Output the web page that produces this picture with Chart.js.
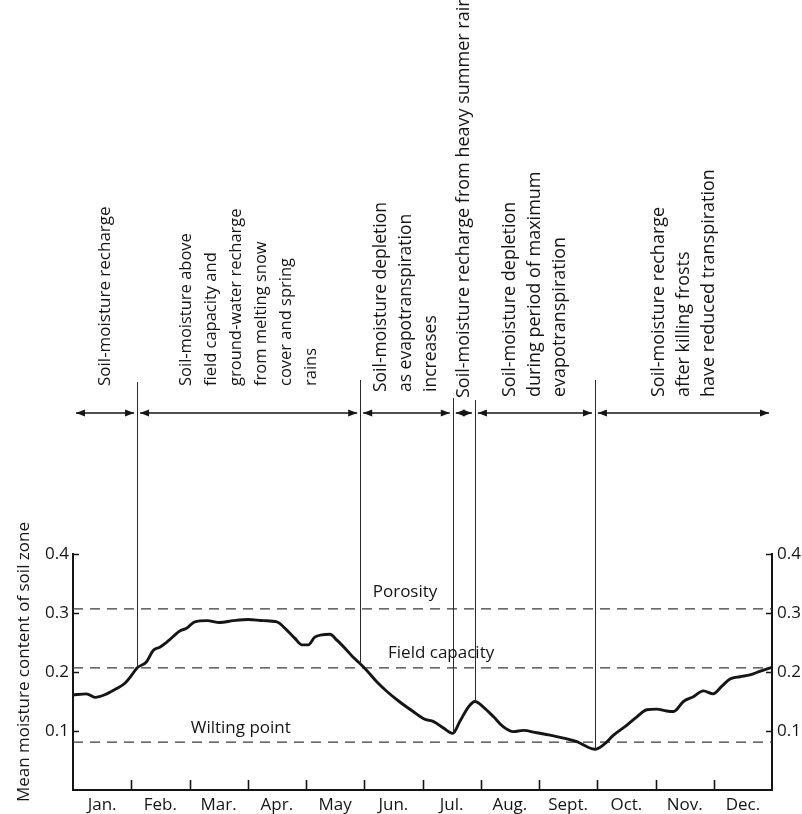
<!DOCTYPE html>
<html>
<head>
<meta charset="utf-8">
<script src="https://cdn.jsdelivr.net/npm/chart.js@4.4.1/dist/chart.umd.min.js"></script>
<style>
  html, body { margin: 0; padding: 0; background: #fff; }
  #wrap { width: 802px; height: 814px; }
</style>
</head>
<body>
<div id="wrap"><canvas id="c" width="802" height="814"></canvas></div>
<script>
// Month names along the bottom axis (one per month, centred in its column)
const months = ['Jan.', 'Feb.', 'Mar.', 'Apr.', 'May', 'Jun.', 'Jul.', 'Aug.', 'Sept.', 'Oct.', 'Nov.', 'Dec.'];

// Mean soil-zone moisture through the year: position in months (0 = start of Jan.) and moisture content
const moistureMonth = [
  0, 0.23, 0.38, 0.58, 0.75, 0.89, 1.01, 1.1,
  1.26, 1.38, 1.49, 1.64, 1.84, 1.95, 2.09, 2.3,
  2.52, 2.75, 3.01, 3.27, 3.5, 3.67, 3.81, 3.93,
  4.04, 4.15, 4.27, 4.41, 4.53, 4.7, 4.81, 4.93,
  5.04, 5.21, 5.39, 5.6, 5.84, 6.04, 6.19, 6.36,
  6.52, 6.64, 6.79, 6.9, 7.04, 7.22, 7.39, 7.56,
  7.73, 7.96, 8.19, 8.42, 8.65, 8.85, 8.96, 9.1,
  9.28, 9.51, 9.68, 9.85, 10.02, 10.19, 10.31, 10.48,
  10.65, 10.82, 10.99, 11.14, 11.28, 11.45, 11.62, 11.79,
  12
];
const moistureValue = [
  0.161, 0.163, 0.157, 0.163, 0.172, 0.181, 0.195, 0.207,
  0.217, 0.237, 0.242, 0.253, 0.270, 0.274, 0.285, 0.287,
  0.284, 0.287, 0.289, 0.287, 0.285, 0.271, 0.257, 0.246,
  0.246, 0.259, 0.263, 0.264, 0.254, 0.237, 0.225, 0.214,
  0.203, 0.184, 0.167, 0.150, 0.133, 0.120, 0.116, 0.105,
  0.096, 0.116, 0.141, 0.150, 0.141, 0.124, 0.107, 0.099,
  0.101, 0.097, 0.093, 0.088, 0.082, 0.072, 0.069, 0.076,
  0.093, 0.110, 0.124, 0.136, 0.137, 0.134, 0.133, 0.150,
  0.158, 0.168, 0.163, 0.176, 0.188, 0.192, 0.195, 0.201,
  0.208
];

// Characteristic soil-water levels
const levelNames = ['Porosity', 'Field capacity', 'Wilting point'];
const levelValues = [0.307, 0.207, 0.081];

// Tick values on both moisture axes
const moistureTicks = [0.1, 0.2, 0.3, 0.4];

// Boundaries (in months) between the seasonal phases, and each phase's description
const phaseBounds = [1.1, 4.93, 6.52, 6.9, 8.96];
const phaseLabels = [
  ['Soil-moisture recharge'],
  ['Soil-moisture above', 'field capacity and', 'ground-water recharge', 'from melting snow', 'cover and spring', 'rains'],
  ['Soil-moisture depletion', 'as evapotranspiration', 'increases'],
  ['Soil-moisture recharge from heavy summer rains'],
  ['Soil-moisture depletion', 'during period of maximum', 'evapotranspiration'],
  ['Soil-moisture recharge', 'after killing frosts', 'have reduced transpiration']
];

const INK = '#151515';
const FONT = "'Open Sans', 'DejaVu Sans', sans-serif";
Chart.defaults.font.family = FONT;
Chart.defaults.font.size = 17;
Chart.defaults.color = INK;

function moistureAt(m) {
  for (let i = 1; i < moistureMonth.length; i++) {
    if (m <= moistureMonth[i]) {
      const a = moistureMonth[i - 1], b = moistureMonth[i];
      const t = (m - a) / (b - a);
      return moistureValue[i - 1] + t * (moistureValue[i] - moistureValue[i - 1]);
    }
  }
  return moistureValue[moistureValue.length - 1];
}

// Annotation layer: inward tick marks, phase dividers, arrows, rotated phase notes, level names, axis title
const decor = {
  id: 'decor',
  afterDraw(chart, args, opts) {
    const ctx = chart.ctx;
    const x = chart.scales.x, y = chart.scales.y;
    const area = chart.chartArea;
    ctx.save();
    ctx.strokeStyle = INK;
    ctx.fillStyle = INK;

    // month boundary ticks pointing up into the plot
    ctx.lineWidth = 1.6;
    for (let m = 1; m < months.length; m++) {
      const px = Math.round(x.getPixelForValue(m)) + 0.5;
      ctx.beginPath();
      ctx.moveTo(px, area.bottom);
      ctx.lineTo(px, area.bottom - opts.tickLen);
      ctx.stroke();
    }
    // moisture ticks pointing into the plot on both sides
    moistureTicks.forEach(v => {
      const py = Math.round(y.getPixelForValue(v)) + 0.5;
      ctx.beginPath();
      ctx.moveTo(area.left, py); ctx.lineTo(area.left + opts.sideTickLen, py);
      ctx.moveTo(area.right, py); ctx.lineTo(area.right - opts.sideTickLen, py);
      ctx.stroke();
    });

    // phase dividers, from above the arrows down to the curve
    ctx.lineWidth = 1;
    ctx.strokeStyle = '#2a2a2a';
    phaseBounds.forEach((m, i) => {
      const px = Math.round(x.getPixelForValue(m)) + 0.5;
      ctx.beginPath();
      ctx.moveTo(px, opts.dividerTop[i]);
      ctx.lineTo(px, y.getPixelForValue(moistureAt(m)));
      ctx.stroke();
    });

    // double-headed arrows spanning each phase
    const edges = [0, ...phaseBounds, months.length];
    ctx.strokeStyle = INK;
    ctx.lineWidth = 1.5;
    const ay = opts.arrowY;
    const head = (px, dir) => {
      ctx.beginPath();
      ctx.moveTo(px, ay);
      ctx.lineTo(px - dir * 9, ay - 3.5);
      ctx.lineTo(px - dir * 9, ay + 3.5);
      ctx.closePath();
      ctx.fill();
    };
    for (let i = 0; i < edges.length - 1; i++) {
      const a = x.getPixelForValue(edges[i]) + opts.arrowGap;
      const b = x.getPixelForValue(edges[i + 1]) - opts.arrowGap;
      ctx.beginPath();
      ctx.moveTo(a, ay); ctx.lineTo(b, ay);
      ctx.stroke();
      head(a, -1);
      head(b, 1);
    }

    // rotated phase descriptions, centred over each phase, reading upwards
    ctx.textAlign = 'left';
    ctx.textBaseline = 'middle';
    phaseLabels.forEach((lines, i) => {
      ctx.font = `${opts.phaseFont[i]}px ${FONT}`;
      const cx = (x.getPixelForValue(edges[i]) + x.getPixelForValue(edges[i + 1])) / 2;
      lines.forEach((line, j) => {
        const lx = cx + (j - (lines.length - 1) / 2) * opts.lineGap;
        ctx.save();
        ctx.translate(lx, opts.textBase[i]);
        ctx.rotate(-Math.PI / 2);
        ctx.fillText(line, 0, 0);
        ctx.restore();
      });
    });

    // names of the soil-water levels
    ctx.font = `17px ${FONT}`;
    ctx.textAlign = 'center';
    levelNames.forEach((name, i) => {
      const p = opts.levelLabelAt[i];
      ctx.fillText(name, x.getPixelForValue(p[0]), y.getPixelForValue(p[1]));
    });

    // moisture axis title
    ctx.save();
    ctx.translate(opts.titleX, opts.titleY);
    ctx.rotate(-Math.PI / 2);
    ctx.fillText('Mean moisture content of soil zone', 0, 0);
    ctx.restore();

    ctx.restore();
  }
};

const levelColors = '#3a3a3a';
const datasets = levelValues.map((v, i) => ({
  label: levelNames[i],
  data: [{ x: 0, y: v }, { x: months.length, y: v }],
  borderColor: levelColors,
  borderWidth: 1.3,
  borderDash: [10, 7],
  pointRadius: 0,
  order: 2
}));
datasets.push({
  label: 'Mean moisture content',
  data: moistureMonth.map((m, i) => ({ x: m, y: moistureValue[i] })),
  borderColor: INK,
  borderWidth: 2.9,
  pointRadius: 0,
  cubicInterpolationMode: 'monotone',
  order: 1
});

const sideAxis = (position, width) => ({
  position,
  min: 0,
  max: 0.4,
  afterBuildTicks: s => { s.ticks = moistureTicks.map(v => ({ value: v })); },
  ticks: {
    callback: v => v.toFixed(1),
    padding: position === 'left' ? 4 : 5,
    font: { size: 17 },
    color: INK
  },
  grid: { drawOnChartArea: false, drawTicks: false },
  border: { display: true, color: INK, width: 2 },
  afterFit: s => { s.width = width; }
});

new Chart(document.getElementById('c'), {
  type: 'line',
  data: { datasets },
  options: {
    responsive: false,
    animation: false,
    devicePixelRatio: 1,
    layout: { padding: { top: 554, left: 0, right: 0, bottom: 0 } },
    plugins: {
      legend: { display: false },
      tooltip: { enabled: false },
      decor: {
        tickLen: 10,
        sideTickLen: 6,
        dividerTop: [382, 380, 398, 400, 380],
        arrowY: 413,
        arrowGap: 3,
        lineGap: 25,
        textBase: [386, 386, 392, 398, 397, 397],
        phaseFont: [17, 16.5, 17.5, 18, 18, 18],
        levelLabelAt: [[5.7, 0.336], [6.32, 0.232], [2.88, 0.105]],
        titleX: 24,
        titleY: 662
      }
    },
    scales: {
      x: {
        type: 'linear',
        min: 0,
        max: months.length,
        afterBuildTicks: s => { s.ticks = months.map((_, i) => ({ value: i + 0.5 })); },
        ticks: {
          callback: (v, i) => months[i],
          autoSkip: false,
          maxRotation: 0,
          padding: 5,
          font: { size: 17 },
          color: INK
        },
        grid: { drawOnChartArea: false, drawTicks: false },
        border: { display: true, color: INK, width: 2 },
        afterFit: s => { s.height = 24; }
      },
      y: sideAxis('left', 73),
      y2: sideAxis('right', 30)
    }
  },
  plugins: [decor]
});
</script>
</body>
</html>
